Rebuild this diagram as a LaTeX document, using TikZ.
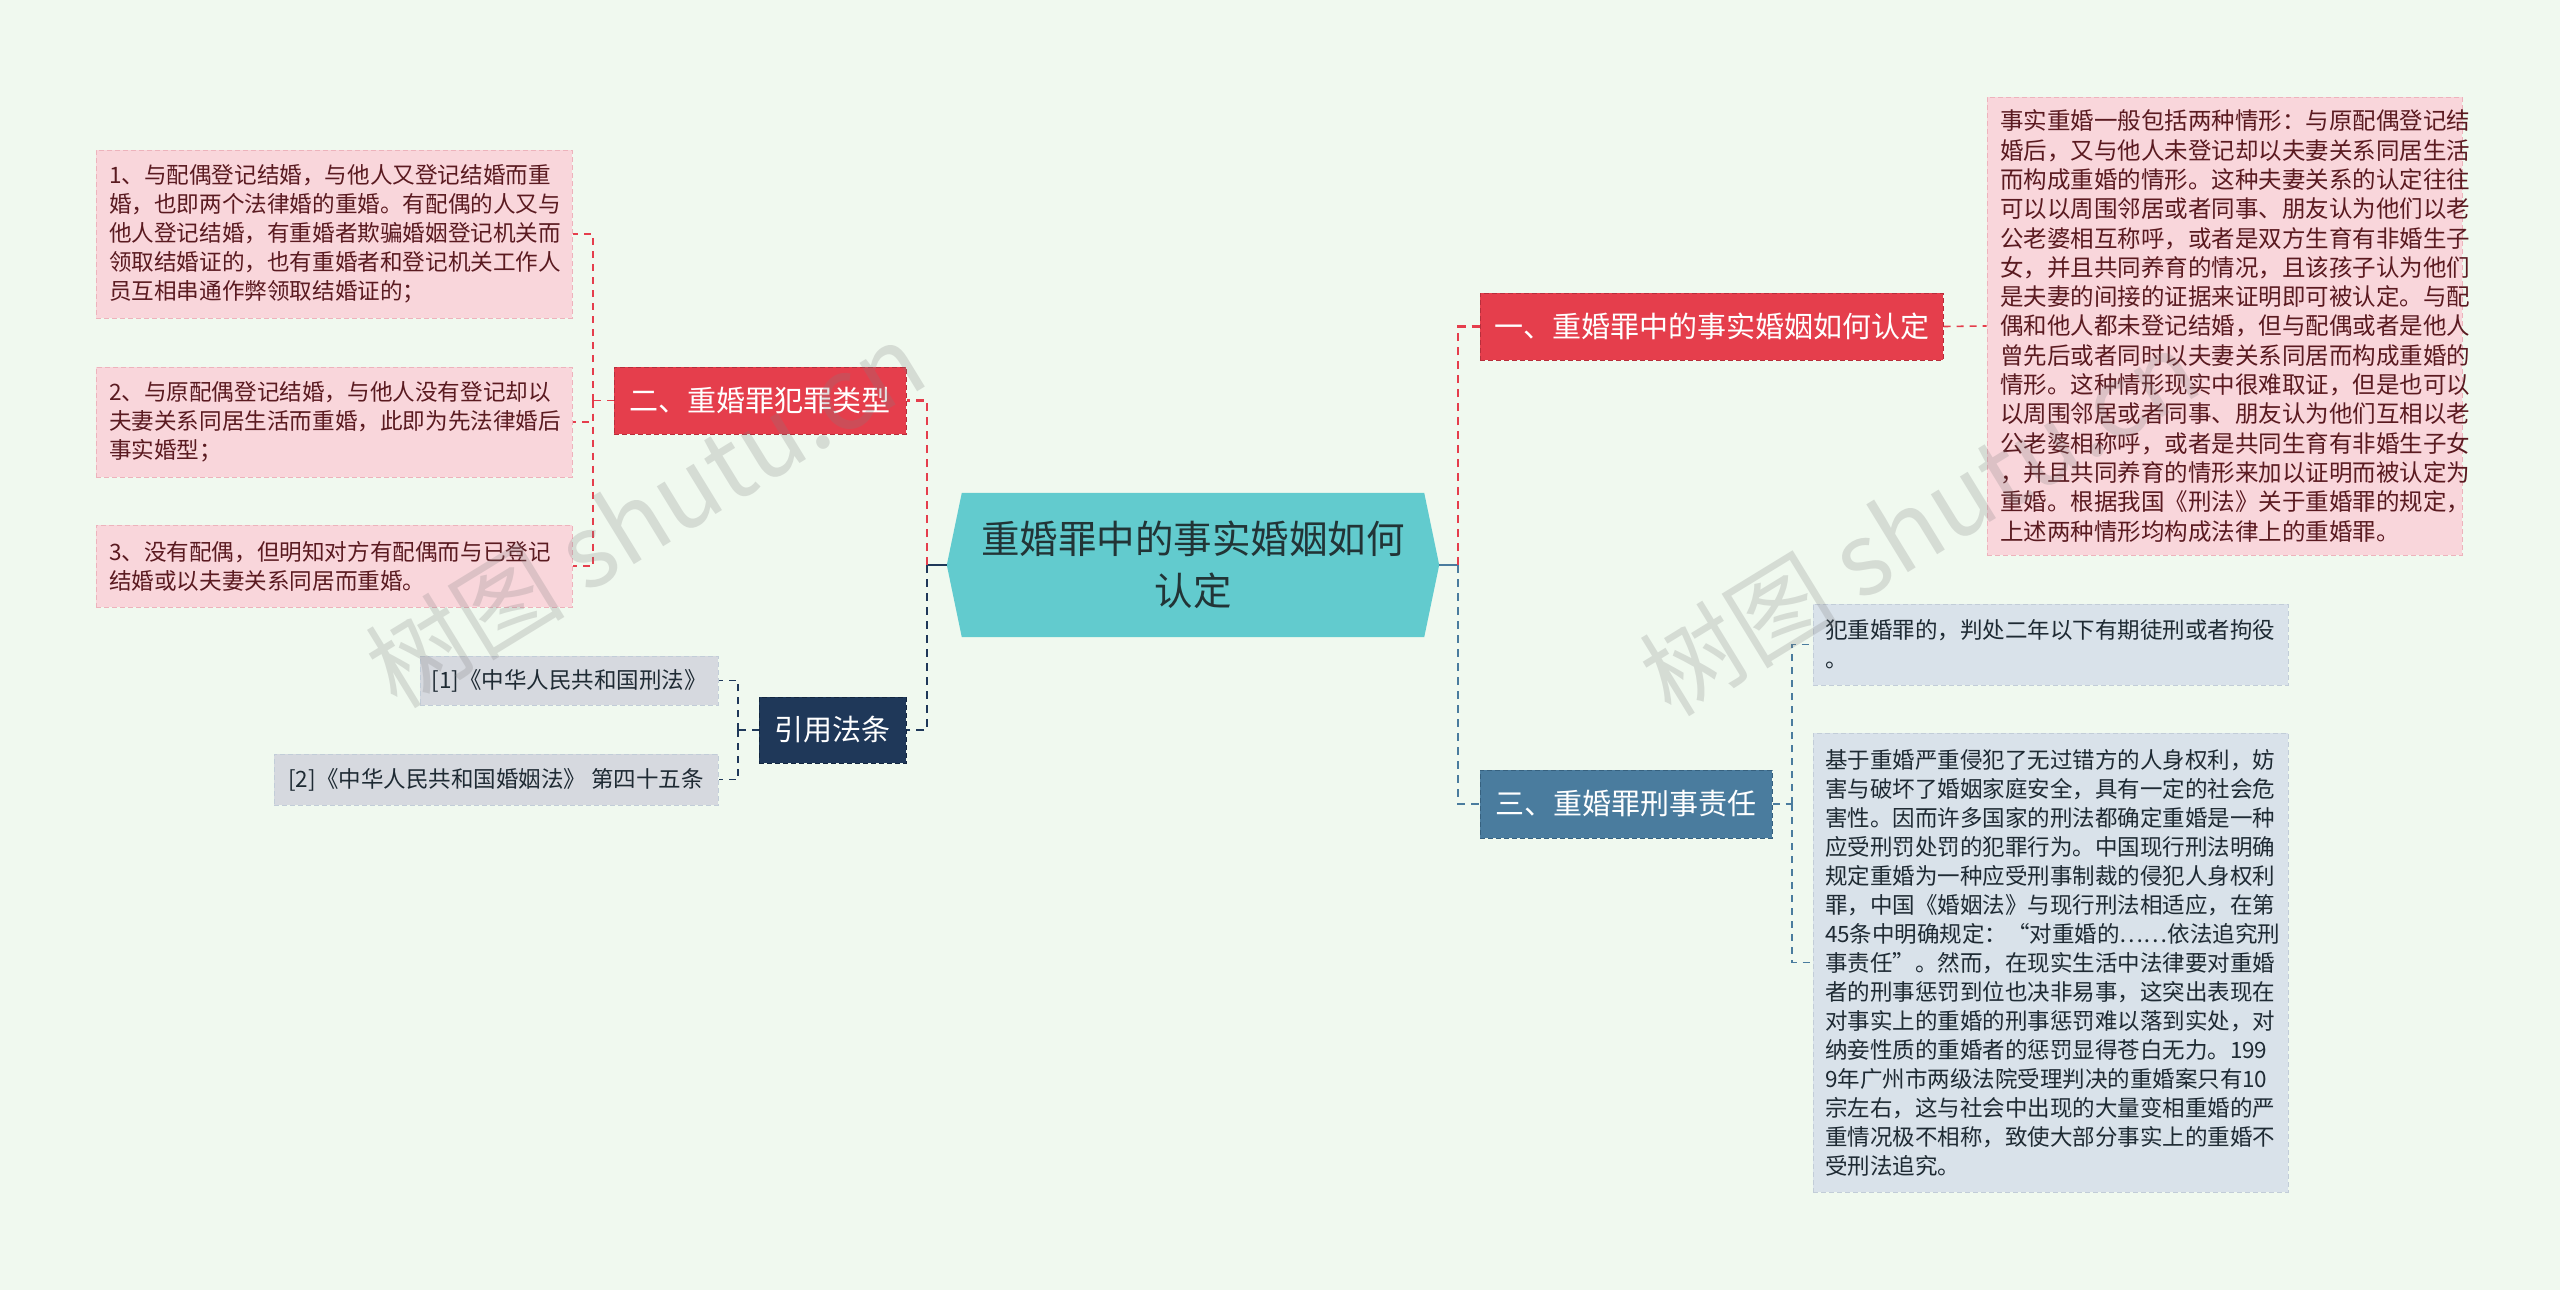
\documentclass[tikz,border=0pt]{standalone}
\usepackage{fontspec}
\setmainfont{Noto Sans CJK SC}
\definecolor{bgc}{HTML}{F0F9EF}
\definecolor{pinkf}{HTML}{F9D6DB}
\definecolor{pinkb}{HTML}{EDB3BC}
\definecolor{pinkt}{HTML}{5A1A20}
\definecolor{redf}{HTML}{E53E4C}
\definecolor{redb}{HTML}{B82E3B}
\definecolor{bluef}{HTML}{4A7C9E}
\definecolor{blueb}{HTML}{36617F}
\definecolor{navyf}{HTML}{1F3859}
\definecolor{navyb}{HTML}{132640}
\definecolor{grayf}{HTML}{D9E2EA}
\definecolor{grayb}{HTML}{C2CDD8}
\definecolor{reff}{HTML}{D6D9DF}
\definecolor{darkt}{HTML}{1E2A33}
\definecolor{tealf}{HTML}{62CBCE}
\definecolor{centt}{HTML}{223436}
\pgfdeclarelayer{bglayer}
\pgfdeclarelayer{shapelayer}
\pgfdeclarelayer{marklayer}
\pgfsetlayers{bglayer,shapelayer,main,marklayer}
\tikzset{
  boxbase/.style={line width=1pt, dash pattern=on 5pt off 3pt, anchor=center, inner ysep=0pt},
  leafpink/.style={boxbase, draw=pinkb, fill=pinkf, text=pinkt, align=left, inner xsep=13pt,
    font=\fontsize{22.6pt}{29pt}\selectfont},
  leafgray/.style={boxbase, draw=grayb, fill=grayf, text=darkt, align=left, inner xsep=12pt,
    font=\fontsize{22.5pt}{29pt}\selectfont},
  refbox/.style={boxbase, draw=grayb, fill=reff, text=darkt, inner xsep=8pt,
    font=\fontsize{22.5pt}{27pt}\selectfont},
  branchbox/.style={boxbase, text=white, inner xsep=6pt, font=\fontsize{29pt}{34pt}\selectfont},
  centerbox/.style={anchor=center, inner sep=0pt, align=center, text=centt,
    minimum width=492pt, minimum height=144pt, font=\fontsize{38.5pt}{52pt}\selectfont},
  mainlink/.style={line width=2.4pt, dash pattern=on 8pt off 6pt},
  stublink/.style={line width=2.4pt},
  leaflink/.style={line width=1.6pt, dash pattern=on 7pt off 6pt},
  wmark/.style={text=gray, opacity=0.24, font=\fontsize{100pt}{110pt}\selectfont, rotate=31.5, anchor=center}
}
\begin{document}
\begin{tikzpicture}[x=1pt,y=-1pt]
\useasboundingbox (0,0) rectangle (2560,1290);
\begin{pgfonlayer}{bglayer}
\fill[bgc] (0,0) rectangle (2560,1290);
\end{pgfonlayer}

% central topic
\node[centerbox] (center) at (1193,565) {重婚罪中的事实婚姻如何\\认定};

% branches
\node[branchbox, fill=redf, draw=redb, minimum width=463pt, minimum height=67pt] (b1) at (1711.5,326.5) {一、重婚罪中的事实婚姻如何认定};
\node[branchbox, fill=redf, draw=redb, minimum width=292pt, minimum height=67pt] (b2) at (760,400.5) {二、重婚罪犯罪类型};
\node[branchbox, fill=bluef, draw=blueb, minimum width=292pt, minimum height=68pt] (b3) at (1626,804) {三、重婚罪刑事责任};
\node[branchbox, fill=navyf, draw=navyb, minimum width=147pt, minimum height=66pt] (b4) at (832.5,730) {引用法条};

% left leaves
\node[leafpink, text width=450pt, minimum height=168pt] (L1) at (334,234) {1、与配偶登记结婚，与他人又登记结婚而重\\婚，也即两个法律婚的重婚。有配偶的人又与\\他人登记结婚，有重婚者欺骗婚姻登记机关而\\领取结婚证的，也有重婚者和登记机关工作人\\员互相串通作弊领取结婚证的；};
\node[leafpink, text width=450pt, minimum height=110pt] (L2) at (334,422) {2、与原配偶登记结婚，与他人没有登记却以\\夫妻关系同居生活而重婚，此即为先法律婚后\\事实婚型；};
\node[leafpink, text width=450pt, minimum height=82pt] (L3) at (334,566) {3、没有配偶，但明知对方有配偶而与已登记\\结婚或以夫妻关系同居而重婚。};

% references
\node[refbox, minimum width=298pt, minimum height=49pt] (r1) at (569,680.5) {[1]《中华人民共和国刑法》};
\node[refbox, minimum width=444pt, minimum height=51pt] (r2) at (496,779.5) {[2]《中华人民共和国婚姻法》 第四十五条};

% right leaves
\node[leafpink, text width=449pt, inner xsep=13pt, minimum height=458pt,
  font=\fontsize{23.5pt}{29.3pt}\selectfont] (R1) at (2224.5,326) {事实重婚一般包括两种情形：与原配偶登记结\\婚后，又与他人未登记却以夫妻关系同居生活\\而构成重婚的情形。这种夫妻关系的认定往往\\可以以周围邻居或者同事、朋友认为他们以老\\公老婆相互称呼，或者是双方生育有非婚生子\\女，并且共同养育的情况，且该孩子认为他们\\是夫妻的间接的证据来证明即可被认定。与配\\偶和他人都未登记结婚，但与配偶或者是他人\\曾先后或者同时以夫妻关系同居而构成重婚的\\情形。这种情形现实中很难取证，但是也可以\\以周围邻居或者同事、朋友认为他们互相以老\\公老婆相称呼，或者是共同生育有非婚生子女\\，并且共同养育的情形来加以证明而被认定为\\重婚。根据我国《刑法》关于重婚罪的规定，\\上述两种情形均构成法律上的重婚罪。};
\node[leafgray, text width=451pt, minimum height=81pt] (A) at (2050.5,644.5) {犯重婚罪的，判处二年以下有期徒刑或者拘役\\。};
\node[leafgray, text width=451pt, minimum height=459pt] (B) at (2050.5,962.5) {基于重婚严重侵犯了无过错方的人身权利，妨\\害与破坏了婚姻家庭安全，具有一定的社会危\\害性。因而许多国家的刑法都确定重婚是一种\\应受刑罚处罚的犯罪行为。中国现行刑法明确\\规定重婚为一种应受刑事制裁的侵犯人身权利\\罪，中国《婚姻法》与现行刑法相适应，在第\\45条中明确规定：“对重婚的……依法追究刑\\事责任”。然而，在现实生活中法律要对重婚\\者的刑事惩罚到位也决非易事，这突出表现在\\对事实上的重婚的刑事惩罚难以落到实处，对\\纳妾性质的重婚者的惩罚显得苍白无力。199\\9年广州市两级法院受理判决的重婚案只有10\\宗左右，这与社会中出现的大量变相重婚的严\\重情况极不相称，致使大部分事实上的重婚不\\受刑法追究。};

% junction points
\coordinate (jl) at (927,565);
\coordinate (jr) at (1458,565);
\coordinate (jl2) at (593,400.5);
\coordinate (jl4) at (738,730);
\coordinate (jr3) at (1792,804);

\begin{pgfonlayer}{shapelayer}
\fill[tealf] (center.west) -- ([xshift=15pt]center.north west) -- ([xshift=-15pt]center.north east)
  -- (center.east) -- ([xshift=-15pt]center.south east) -- ([xshift=15pt]center.south west) -- cycle;
% main connectors
\draw[stublink, navyf] (center.west) -- (jl);
\draw[mainlink, redf] (jl) |- (b2.east);
\draw[mainlink, navyf] (jl) |- (b4.east);
\draw[stublink, bluef] (center.east) -- (jr);
\draw[mainlink, redf] (jr) |- (b1.west);
\draw[mainlink, bluef] (jr) |- (b3.west);
% leaf connectors
\draw[leaflink, redf] (b2.west) -- (jl2);
\draw[leaflink, redf] (jl2) |- (L1.east);
\draw[leaflink, redf] (jl2) |- (L2.east);
\draw[leaflink, redf] (jl2) |- (L3.east);
\draw[leaflink, navyf] (b4.west) -- (jl4);
\draw[leaflink, navyf] (jl4) |- (r1.east);
\draw[leaflink, navyf] (jl4) |- (r2.east);
\draw[leaflink, redf] (b1.east) -- (R1.west);
\draw[leaflink, bluef] (b3.east) -- (jr3);
\draw[leaflink, bluef] (jr3) |- (A.west);
\draw[leaflink, bluef] (jr3) |- (B.west);
\end{pgfonlayer}

\begin{pgfonlayer}{marklayer}
\node[wmark] (wm1) at (645,514) {树图 shutu.cn};
\node[wmark] (wm2) at (1919,522) {树图 shutu.cn};
\end{pgfonlayer}
\end{tikzpicture}
\end{document}
